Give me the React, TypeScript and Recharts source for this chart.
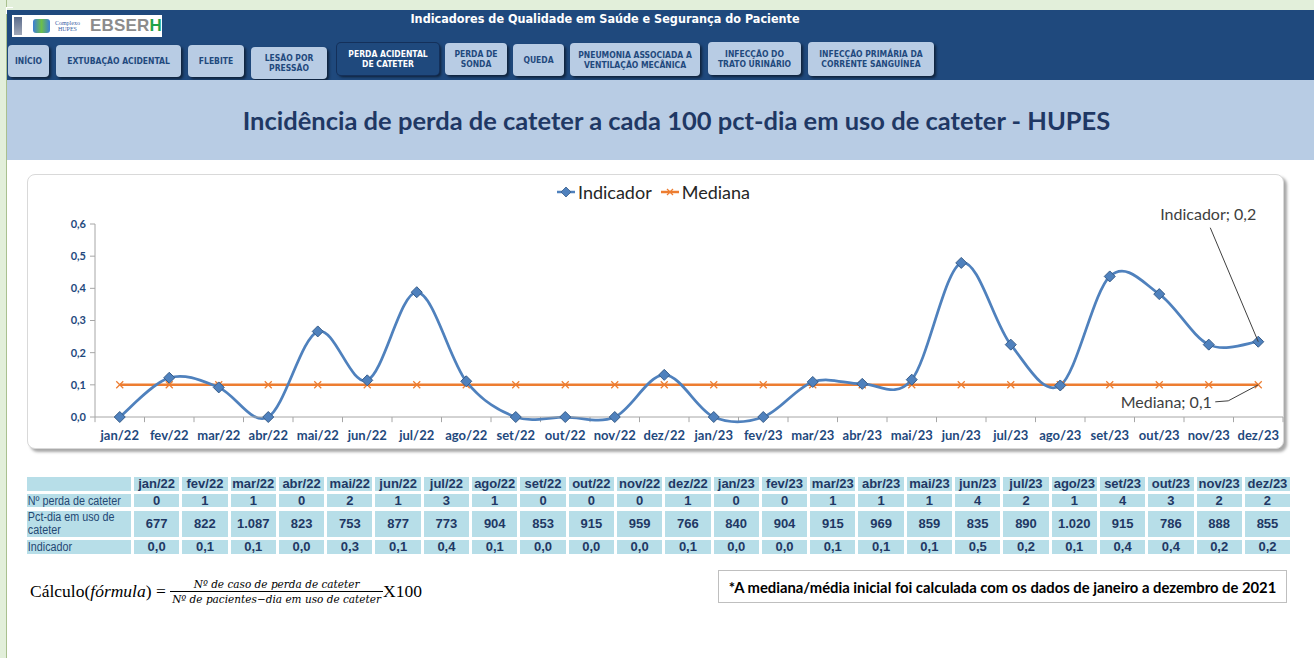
import React from 'react';
import { LineChart, Line, XAxis, YAxis, Legend, LabelList, ReferenceLine } from 'recharts';

const months = ['jan/22','fev/22','mar/22','abr/22','mai/22','jun/22','jul/22','ago/22','set/22','out/22','nov/22','dez/22','jan/23','fev/23','mar/23','abr/23','mai/23','jun/23','jul/23','ago/23','set/23','out/23','nov/23','dez/23'];
const perdas = [0,1,1,0,2,1,3,1,0,0,0,1,0,0,1,1,1,4,2,1,4,3,2,2];
const pctDia = [677,822,1087,823,753,877,773,904,853,915,959,766,840,904,915,969,859,835,890,1020,915,786,888,855];
const indicador = [0,0.122,0.092,0,0.266,0.114,0.388,0.111,0,0,0,0.131,0,0,0.109,0.103,0.116,0.479,0.225,0.098,0.437,0.382,0.225,0.234];
const mediana = [0.1,0.1,0.1,0.1,0.1,0.1,0.1,0.1,0.1,0.1,0.1,0.1,0.1,0.1,0.1,0.1,0.1,0.1,0.1,0.1,0.1,0.1,0.1,0.1];
const yTicks = [0,0.1,0.2,0.3,0.4,0.5,0.6];

const navButtons = [
  { label: ['INÍCIO'], x: 8, y: 45, w: 41, h: 32 },
  { label: ['EXTUBAÇÃO ACIDENTAL'], x: 56, y: 45, w: 125, h: 32 },
  { label: ['FLEBITE'], x: 188, y: 45, w: 56, h: 32 },
  { label: ['LESÃO POR', 'PRESSÃO'], x: 251, y: 47, w: 76, h: 32 },
  { label: ['PERDA ACIDENTAL', 'DE CATETER'], x: 337, y: 43, w: 102, h: 32, active: true },
  { label: ['PERDA DE', 'SONDA'], x: 445, y: 43, w: 62, h: 32 },
  { label: ['QUEDA'], x: 513, y: 44, w: 51, h: 32 },
  { label: ['PNEUMONIA ASSOCIADA A', 'VENTILAÇÃO MECÂNICA'], x: 570, y: 43, w: 130, h: 33 },
  { label: ['INFECÇÃO DO', 'TRATO URINÁRIO'], x: 708, y: 42, w: 93, h: 33 },
  { label: ['INFECÇÃO PRIMÁRIA DA', 'CORRENTE SANGUÍNEA'], x: 808, y: 42, w: 126, h: 34 },
];

const BLUE = '#4F81BD';
const ORANGE = '#ED7D31';
const NAVY = '#1F497D';
const fmt1 = (v: number) => v.toFixed(1).replace('.', ',');
const fmtThousands = (v: number) => String(v).replace(/\B(?=(\d{3})+(?!\d))/g, '.');

const data = months.map((m, i) => ({ idx: i, month: m, indicador: indicador[i], mediana: mediana[i] }));
const boundaries = [-0.5, ...months.map((_, i) => i + 0.5)];

// Excel-like smoothing (Catmull-Rom bezier)
const excelCurve = (context: any) => {
  let pts: number[][] = [];
  return {
    areaStart() {},
    areaEnd() {},
    lineStart() { pts = []; },
    point(x: number, y: number) { pts.push([+x, +y]); },
    lineEnd() {
      const n = pts.length;
      if (!n) return;
      context.moveTo(pts[0][0], pts[0][1]);
      for (let i = 0; i < n - 1; i++) {
        const p0 = pts[i - 1] || pts[i];
        const p1 = pts[i];
        const p2 = pts[i + 1];
        const p3 = pts[i + 2] || p2;
        context.bezierCurveTo(
          p1[0] + (p2[0] - p0[0]) / 6, p1[1] + (p2[1] - p0[1]) / 6,
          p2[0] - (p3[0] - p1[0]) / 6, p2[1] - (p3[1] - p1[1]) / 6,
          p2[0], p2[1]
        );
      }
    },
  };
};

const Diamond = (props: any) => {
  const { cx, cy } = props;
  if (cx == null || cy == null) return null;
  const s = 5.5;
  return <path d={`M${cx},${cy - s}L${cx + s},${cy}L${cx},${cy + s}L${cx - s},${cy}Z`} fill={BLUE} stroke="#385D8A" strokeWidth={1} />;
};

const Cross = (props: any) => {
  const { cx, cy } = props;
  if (cx == null || cy == null) return null;
  const s = 3.5;
  return (
    <g stroke={ORANGE} strokeWidth={1.3}>
      <line x1={cx - s} y1={cy - s} x2={cx + s} y2={cy + s} />
      <line x1={cx - s} y1={cy + s} x2={cx + s} y2={cy - s} />
    </g>
  );
};

const getXY = (p: any) => ({
  x: p.x != null ? p.x : p.viewBox?.x,
  y: p.y != null ? p.y : p.viewBox?.y,
});

const IndicLabel = (p: any) => {
  if (p.index !== months.length - 1) return null;
  const { x, y } = getXY(p);
  if (x == null || y == null) return null;
  return (
    <g>
      <line x1={x - 48} y1={y - 114} x2={x} y2={y} stroke="#404040" strokeWidth={1} />
      <text x={x - 50} y={y - 122} textAnchor="middle" fontFamily="Lato, 'Liberation Sans', sans-serif" fontSize={16} fill="#404040">
        {`Indicador; ${fmt1(Number(p.value))}`}
      </text>
    </g>
  );
};

const MedLabel = (p: any) => {
  if (p.index !== months.length - 1) return null;
  const { x, y } = getXY(p);
  if (x == null || y == null) return null;
  return (
    <g>
      <polyline points={`${x - 43},${y + 17} ${x - 30},${y + 16} ${x},${y}`} fill="none" stroke="#404040" strokeWidth={1} />
      <text x={x - 92} y={y + 23} textAnchor="middle" fontFamily="Lato, 'Liberation Sans', sans-serif" fontSize={16} fill="#404040">
        {`Mediana; ${fmt1(Number(p.value))}`}
      </text>
    </g>
  );
};

const LegendContent = (props: any) => {
  const payload = props.payload || [];
  return (
    <div style={{ display: 'flex', justifyContent: 'center', alignItems: 'center', fontFamily: "Lato, 'Liberation Sans', sans-serif", fontSize: 18, color: '#262626', marginLeft: -6 }}>
      {payload.map((e: any, i: number) => (
        <div key={i} style={{ display: 'flex', alignItems: 'center', marginRight: i === 0 ? 8 : 0 }}>
          <svg width={20} height={12} style={{ marginRight: 2 }}>
            <line x1={1} y1={6} x2={19} y2={6} stroke={e.color} strokeWidth={2.5} />
            {e.dataKey === 'indicador' ? (
              <path d="M10,1L15,6L10,11L5,6Z" fill={BLUE} stroke="#385D8A" strokeWidth={0.8} />
            ) : (
              <g stroke={ORANGE} strokeWidth={1.3}>
                <line x1={7} y1={3} x2={13} y2={9} />
                <line x1={7} y1={9} x2={13} y2={3} />
              </g>
            )}
          </svg>
          <span>{e.value}</span>
        </div>
      ))}
    </div>
  );
};

const sans = "'Liberation Sans', Arial, sans-serif";
const cellBase: React.CSSProperties = {
  background: '#B7DEE8',
  display: 'flex',
  alignItems: 'center',
  justifyContent: 'center',
  fontFamily: sans,
  fontSize: 13,
  fontWeight: 700,
  color: '#1F3864',
  lineHeight: '12px',
  overflow: 'hidden',
  whiteSpace: 'nowrap',
};
const rowLabel: React.CSSProperties = {
  ...cellBase,
  justifyContent: 'flex-start',
  fontWeight: 400,
  fontSize: 12.5,
  lineHeight: '12.5px',
  color: '#244873',
};

export default function App() {
  const rows = [
    { label: ['Nº  perda de cateter'], values: perdas.map(String) },
    { label: ['Pct-dia em uso de', 'cateter'], values: pctDia.map(fmtThousands) },
    { label: ['Indicador'], values: indicador.map(fmt1) },
  ];
  return (
    <div style={{ position: 'absolute', left: 0, top: 0, width: 1314, height: 658, background: '#FFFFFF', overflow: 'hidden' }}>
      {/* green frame */}
      <div style={{ position: 'absolute', left: 0, top: 0, width: 1314, height: 10, background: '#E2EFDA' }} />
      <div style={{ position: 'absolute', left: 0, top: 0, width: 6, height: 658, background: '#E2EFDA', borderRight: '1px solid #A9C08F' }} />
      {/* header */}
      <div style={{ position: 'absolute', left: 7, top: 10, width: 1307, height: 70, background: '#1F497D' }} />
      <div style={{ position: 'absolute', left: 6, top: 7, width: 6, height: 6, border: '1px solid #FFFFFF', borderRight: 'none', borderBottom: 'none' }} />
      {/* logo */}
      <div style={{ position: 'absolute', left: 12, top: 15, width: 150, height: 22, background: '#FFFFFF', display: 'flex', alignItems: 'center' }}>
        <div style={{ width: 8, height: 18, marginLeft: 2, background: 'linear-gradient(#5B6C8C, #A0A8B8)' }} />
        <div style={{ width: 18, height: 14, marginLeft: 11, borderRadius: 3, background: 'linear-gradient(90deg, #3B7DD8, #6CBF4A, #3B7DD8)' }} />
        <div style={{ marginLeft: 5, fontFamily: "'Liberation Serif', serif", fontSize: 6, lineHeight: '6px', color: '#3B5EA6', textAlign: 'center' }}>
          Complexo<br />HUPES
        </div>
        <div style={{ marginLeft: 10, fontFamily: "'Liberation Sans', sans-serif", fontWeight: 700, fontSize: 17, color: '#8C8C8C', letterSpacing: 0.2 }}>
          EBSER<span style={{ color: '#1FA34A' }}>H</span>
        </div>
      </div>
      {/* header title */}
      <div style={{ position: 'absolute', left: 300, top: 11, width: 610, textAlign: 'center', fontFamily: "'DejaVu Sans Condensed', 'Liberation Sans Narrow', sans-serif", fontWeight: 700, fontSize: 12.5, color: '#FFFFFF' }}>
        Indicadores de Qualidade em Saúde e Segurança do Paciente
      </div>
      {/* nav buttons */}
      {navButtons.map((b, i) => (
        <div key={i} style={{
          position: 'absolute', left: b.x, top: b.y, width: b.w, height: b.h,
          background: b.active ? '#1F497D' : '#B8CCE4',
          borderRadius: 4,
          boxShadow: b.active ? '0 0 0 1px #14305A, 2px 2px 3px rgba(0,0,0,0.6)' : '2px 2px 3px rgba(0,0,0,0.55)',
          display: 'flex', flexDirection: 'column', alignItems: 'center', justifyContent: 'center',
          fontFamily: "'DejaVu Sans Condensed', 'Liberation Sans Narrow', sans-serif", fontWeight: 700, fontSize: 8.5,
          lineHeight: '10px', color: b.active ? '#FFFFFF' : '#1F497D', textAlign: 'center', whiteSpace: 'nowrap',
        }}>
          {b.label.map((l, j) => <div key={j}>{l}</div>)}
        </div>
      ))}
      {/* title band */}
      <div style={{ position: 'absolute', left: 7, top: 80, width: 1307, height: 80, background: '#B8CCE4', display: 'flex', alignItems: 'center', justifyContent: 'center' }}>
        <div style={{ fontFamily: "Lato, 'Liberation Sans', sans-serif", fontWeight: 700, fontSize: 25.5, color: '#1F3864', marginLeft: 32, whiteSpace: 'nowrap' }}>
          Incidência de perda de cateter a cada 100 pct-dia em uso de cateter - HUPES
        </div>
      </div>
      {/* chart box */}
      <div style={{ position: 'absolute', left: 27, top: 174, width: 1255, height: 273, background: '#FFFFFF', border: '1px solid #D9D9D9', borderRadius: 8, boxShadow: '3px 3px 3px rgba(0,0,0,0.35)' }} />
      <div style={{ position: 'absolute', left: 27, top: 173 }}>
        <LineChart width={1258} height={279} data={data} margin={{ top: 51, right: 2, left: 8, bottom: 5 }}>
          <XAxis
            type="number"
            dataKey="idx"
            domain={[-0.5, 23.5]}
            ticks={months.map((_, i) => i)}
            tickFormatter={(v: number) => months[v] ?? ''}
            interval={0}
            tickLine={false}
            tickMargin={8}
            axisLine={{ stroke: '#A6A6A6' }}
            height={30}
            tick={{ fill: NAVY, fontSize: 13, fontWeight: 700, fontFamily: "Lato, 'Liberation Sans', sans-serif" }}
          />
          <YAxis
            type="number"
            domain={[0, 0.6]}
            ticks={yTicks}
            tickFormatter={fmt1}
            width={60}
            axisLine={{ stroke: '#A6A6A6' }}
            tickLine={{ stroke: '#A6A6A6' }}
            tickSize={5}
            tickMargin={4}
            tick={{ fill: NAVY, fontSize: 11, fontWeight: 700, fontFamily: "Lato, 'Liberation Sans', sans-serif" }}
          />
          {boundaries.map((b) => (
            <ReferenceLine key={b} segment={[{ x: b, y: 0 }, { x: b, y: -0.016 }]} ifOverflow="visible" stroke="#A6A6A6" strokeWidth={1} />
          ))}
          <Legend
            verticalAlign="middle"
            align="center"
            layout="horizontal"
            wrapperStyle={{ top: 8, left: 0, width: 1258 }}
            content={<LegendContent />}
          />
          <Line
            dataKey="mediana"
            name="Mediana"
            stroke={ORANGE}
            strokeWidth={2.5}
            type="linear"
            dot={<Cross />}
            activeDot={false}
            isAnimationActive={false}
          >
            <LabelList dataKey="mediana" content={<MedLabel />} />
          </Line>
          <Line
            dataKey="indicador"
            name="Indicador"
            stroke={BLUE}
            strokeWidth={2.75}
            type={excelCurve as any}
            dot={<Diamond />}
            activeDot={false}
            isAnimationActive={false}
          >
            <LabelList dataKey="indicador" content={<IndicLabel />} />
          </Line>
        </LineChart>
      </div>
      {/* data table */}
      <div style={{
        position: 'absolute', left: 27, top: 477, display: 'grid',
        gridTemplateColumns: '104px repeat(24, 45.3px)', gridTemplateRows: '14px 13px 26px 14px',
        columnGap: 3, rowGap: 3.3,
      }}>
        <div style={cellBase} />
        {months.map((m) => <div key={m} style={cellBase}>{m}</div>)}
        {rows.map((r) => (
          <React.Fragment key={r.label.join(' ')}>
            <div style={rowLabel}>
              <span style={{ display: 'inline-block', transform: 'scaleX(0.86)', transformOrigin: 'left center', paddingLeft: 1 }}>
                {r.label.map((l, j) => <div key={j}>{l}</div>)}
              </span>
            </div>
            {r.values.map((v, i) => <div key={i} style={cellBase}>{v}</div>)}
          </React.Fragment>
        ))}
      </div>
      {/* formula */}
      <div style={{ position: 'absolute', left: 30, top: 575, height: 32, display: 'flex', alignItems: 'center', fontFamily: "'Liberation Serif', 'DejaVu Serif', serif", fontSize: 17.5, color: '#000' }}>
        <span>Cálculo(<i>fórmula</i>) =&nbsp;</span>
        <span style={{ display: 'inline-flex', flexDirection: 'column', alignItems: 'center', fontFamily: "'DejaVu Serif', serif", fontStyle: 'italic', fontSize: 10.5, lineHeight: '12px' }}>
          <span style={{ padding: '0 2px 1px' }}>Nº de caso de perda de cateter</span>
          <span style={{ borderTop: '1px solid #000', padding: '1px 2px 0' }}>Nº de pacientes−dia em uso de cateter</span>
        </span>
        <span>X100</span>
      </div>
      {/* note */}
      <div style={{ position: 'absolute', left: 718, top: 570, width: 569, height: 33, border: '1px solid #BFBFBF', boxSizing: 'border-box', display: 'flex', alignItems: 'center', justifyContent: 'center', fontFamily: "Lato, 'Liberation Sans', sans-serif", fontWeight: 700, fontSize: 14.8, color: '#000' }}>
        *A mediana/média inicial foi calculada com os dados de janeiro a dezembro de 2021
      </div>
    </div>
  );
}
